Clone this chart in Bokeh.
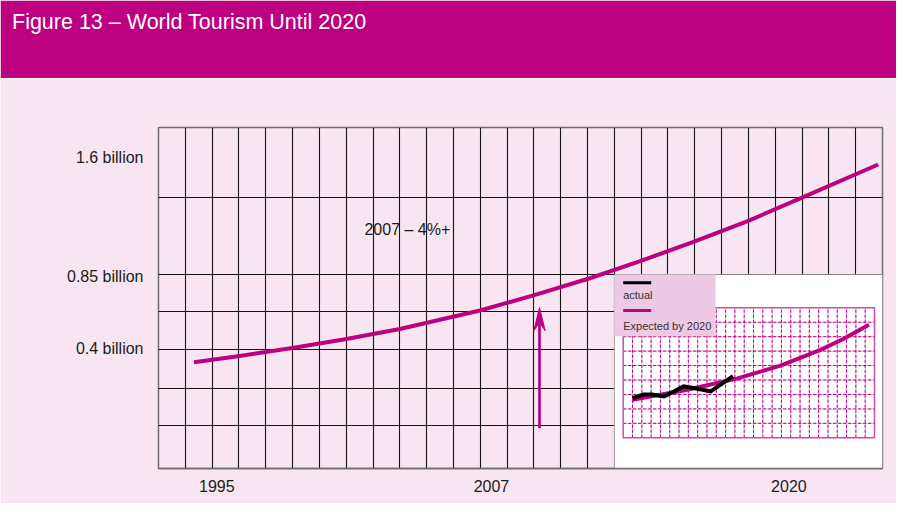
import numpy as np
from bokeh.plotting import figure
from bokeh.models import Range1d, FixedTicker, Title
from bokeh.layouts import column
from bokeh.core.properties import value
from bokeh.embed import file_html
from bokeh.resources import INLINE

# ---------------- data ----------------
TITLE = "Figure 13 \u2013 World Tourism Until 2020"

# forecast curve of the main chart (year, billions of arrivals)
curve_years = [1994.0, 1996.0, 1998.3, 2000.6, 2003.0, 2006.5, 2008.8, 2011.3,
               2013.5, 2015.8, 2018.2, 2020.6, 2023.0, 2023.9]
curve_values = [0.31, 0.35, 0.40, 0.456, 0.52, 0.637, 0.73, 0.84,
                0.948, 1.067, 1.20, 1.35, 1.50, 1.557]

x_ticks = [1995, 2007, 2020]
y_ticks = [0.4, 0.85, 1.6]
y_tick_labels = ["0.4 billion", "0.85 billion", "1.6 billion"]

note_text = "2007 \u2013 4%+"
note_year = 2001.45
note_value = 1.145

arrow_year = 2009.1
arrow_from = -0.105
arrow_to = 0.654

# inset chart
inset_expected_years = [1995.0, 2000.5, 2006.2, 2010.9, 2015.2, 2017.7, 2020.4]
inset_expected_values = [0.526, 0.655, 0.82, 1.0, 1.218, 1.371, 1.565]
inset_actual_years = [1995.0, 1996.2, 1997.1, 1998.4, 2000.5, 2002.0, 2003.4, 2004.5, 2005.8]
inset_actual_values = [0.548, 0.599, 0.599, 0.572, 0.711, 0.679, 0.642, 0.739, 0.854]
inset_legend = ["actual", "Expected by 2020"]

# ---------------- style / layout ----------------
W = 896
HEAD_H = 78
H = 503 - HEAD_H
MAGENTA = "#bc0080"
PINK = "#f7e5f1"
LEGEND_PINK = "#edc9e4"
GRID = "#141414"
FRAME = "#6d6d6d"
TXT = "#1c1c1c"
FONT = value("Liberation Sans")

# frame in page pixels (main figure starts at HEAD_H)
FX0, FX1, FY0, FY1 = 158.0, 882.0, 127.0, 468.0
X0, X1 = 1992.45, 2024.09
Y0, Y1 = -0.359, 1.790
N_COLS = 27
v_grid = list(np.linspace(X0, X1, N_COLS + 1)[1:-1])
h_grid = [1.351, 0.864, 0.631, 0.393, 0.144, -0.088]


def mx(px):
    return X0 + (px - FX0) * (X1 - X0) / (FX1 - FX0)


def my(py):
    return Y1 - (py - FY0) * (Y1 - Y0) / (FY1 - FY0)


XPX = (X1 - X0) / (FX1 - FX0)
YPX = (Y1 - Y0) / (FY1 - FY0)

# inset scale: grid 1994..2021 (27 cols) x 0..1.8 (9 rows)
IG_X0, IG_X1, IG_Y0, IG_Y1 = 1994, 2021, 0.0, 1.8
IPX_L, IPX_R, IPY_B, IPY_T = 622.7, 874.0, 437.3, 307.3
ixs = (IG_X1 - IG_X0) / (IPX_R - IPX_L)
iys = (IG_Y1 - IG_Y0) / (IPY_B - IPY_T)
IX0 = IG_X0 - (IPX_L - FX0) * ixs
IX1 = IG_X1 + (FX1 - IPX_R) * ixs
IY0 = IG_Y0 - (FY1 - IPY_B) * iys
IY1 = IG_Y1 + (IPY_T - FY0) * iys

# ---------------- header ----------------
head = figure(width=W, height=HEAD_H, output_backend="svg", toolbar_location=None,
              min_border=0, x_axis_type=None, y_axis_type=None,
              background_fill_color=MAGENTA, border_fill_color=MAGENTA,
              outline_line_color=MAGENTA, outline_line_width=3, title=None)
head.add_layout(Title(text=TITLE, align="left", offset=11.5 - FX0, vertical_align="top",
                      text_color="white", text_font="Liberation Sans", text_font_size="21.5px",
                      text_font_style="normal", standoff=18), "above")

# ---------------- main chart ----------------
p = figure(width=W, height=H, x_range=Range1d(X0, X1), y_range=Range1d(Y0, Y1),
           output_backend="svg", toolbar_location=None,
           min_border_left=int(FX0), min_border_right=int(W - FX1),
           min_border_top=int(FY0 - HEAD_H), min_border_bottom=int(503 - FY1),
           background_fill_color=PINK, border_fill_color=PINK,
           outline_line_color=FRAME, outline_line_width=1.5)
p.extra_x_ranges = {"ix": Range1d(IX0, IX1)}
p.extra_y_ranges = {"iy": Range1d(IY0, IY1)}

p.xgrid.ticker = FixedTicker(ticks=v_grid)
p.ygrid.ticker = FixedTicker(ticks=h_grid)
p.grid.grid_line_color = GRID
p.grid.grid_line_width = 1.1

p.xaxis.ticker = FixedTicker(ticks=x_ticks)
p.yaxis.ticker = FixedTicker(ticks=y_ticks)
p.yaxis.major_label_overrides = {t: l for t, l in zip(y_ticks, y_tick_labels)}
for ax in (p.xaxis, p.yaxis):
    ax.major_tick_line_color = None
    ax.minor_tick_line_color = None
    ax.major_tick_in = 0
    ax.major_tick_out = 0
    ax.minor_tick_in = 0
    ax.minor_tick_out = 0
    ax.major_label_text_font = "Liberation Sans"
    ax.major_label_text_font_size = "16px"
    ax.major_label_text_color = TXT
p.xaxis.axis_line_color = FRAME
p.xaxis.axis_line_width = 1.5
p.xaxis.major_label_standoff = 11
p.yaxis.axis_line_color = None
p.yaxis.major_label_standoff = 15

# main forecast curve
p.line(curve_years, curve_values, line_color=MAGENTA, line_width=4, line_cap="butt")

# annotation text
p.text(x=[note_year], y=[note_value], text=[note_text], text_font=FONT, text_font_size="16px",
       text_color=TXT, text_baseline="middle", text_align="left")

# arrow
p.segment(x0=[arrow_year], y0=[arrow_from], x1=[arrow_year], y1=[arrow_to - 16 * YPX],
          line_color=MAGENTA, line_width=2.7)
p.patch(x=[arrow_year, arrow_year - 5.7 * XPX, arrow_year, arrow_year + 5.7 * XPX],
        y=[arrow_to, arrow_to - 23 * YPX, arrow_to - 15 * YPX, arrow_to - 23 * YPX],
        fill_color=MAGENTA, line_color=MAGENTA, line_width=1)

# ---------------- inset ----------------
p.quad(left=[v_grid[16]], right=[X1], bottom=[Y0], top=[h_grid[1]],
       fill_color="white", line_color=None)

ivx = list(range(IG_X0 + 1, IG_X1))
ivy = [round(0.2 * k, 1) for k in range(1, 9)]
for col, dash in (("#eab3da", "solid"), ("#c3007f", "3 2")):
    p.segment(x0=ivx, y0=[IG_Y0] * len(ivx), x1=ivx, y1=[IG_Y1] * len(ivx),
              x_range_name="ix", y_range_name="iy", line_color=col, line_dash=dash, line_width=1)
    p.segment(x0=[IG_X0] * len(ivy), y0=ivy, x1=[IG_X1] * len(ivy), y1=ivy,
              x_range_name="ix", y_range_name="iy", line_color=col, line_dash=dash, line_width=1)
p.quad(left=[IG_X0], right=[IG_X1], bottom=[IG_Y0], top=[IG_Y1], fill_color=None,
       line_color="#d04aa8", line_width=1.5, x_range_name="ix", y_range_name="iy")

p.line(inset_expected_years, inset_expected_values, line_color=MAGENTA, line_width=4,
       line_join="round", x_range_name="ix", y_range_name="iy")
p.line(inset_actual_years, inset_actual_values, line_color="black", line_width=4,
       line_join="miter", x_range_name="ix", y_range_name="iy")

# inset legend
p.quad(left=[v_grid[16]], right=[mx(715)], bottom=[my(335.7)], top=[h_grid[1]],
       fill_color=LEGEND_PINK, line_color=None)
p.segment(x0=[mx(622.7)], y0=[my(282.3)], x1=[mx(650.7)], y1=[my(282.3)],
          line_color="black", line_width=3)
p.segment(x0=[mx(622.7)], y0=[my(310)], x1=[mx(650.7)], y1=[my(310)],
          line_color=MAGENTA, line_width=3)
p.text(x=[mx(622.7), mx(622.7)], y=[my(294.3), my(325)], text=inset_legend, text_font=FONT,
       text_font_size="11px", text_color="#333333", text_baseline="middle", text_align="left")

layout = column(head, p, spacing=0)
open("out.html", "w").write(file_html(layout, INLINE))
